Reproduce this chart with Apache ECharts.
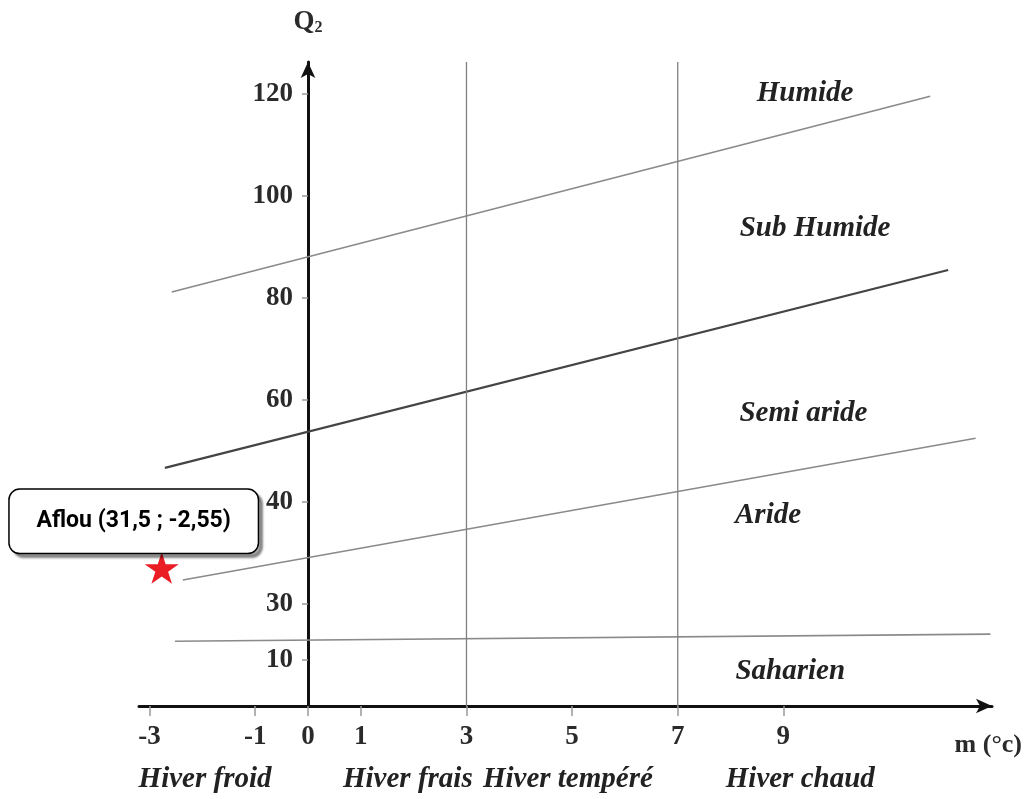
<!DOCTYPE html>
<html>
<head>
<meta charset="utf-8">
<script src="https://cdn.jsdelivr.net/npm/echarts@6/dist/echarts.min.js"></script>
<style>
  html, body { margin: 0; padding: 0; background: #fff; }
  #chart { width: 1026px; height: 799px; }
</style>
</head>
<body>
<div id="chart"></div>
<script>
// x: m (°C), y: position on the Q2 scale (the printed scale is not linear)
const xTickValues = [-3, -1, 0, 1, 3, 5, 7, 9];
const yTickPos = [120, 100, 80, 60, 40, 20, 9];
const yTickLabels = ['120', '100', '80', '60', '40', '30', '10'];

const seasonPos = [-1.95, 1.89, 4.92, 9.32];
const seasonNames = ['Hiver froid', 'Hiver frais', 'Hiver tempéré', 'Hiver chaud'];

const winterLimits = [3, 7];

const limitHumide = [[-2.58, 81.2], [11.78, 119.6]];
const limitSubHumide = [[-2.71, 46.7], [12.12, 85.5]];
const limitSemiAride = [[-2.37, 24.7], [12.64, 52.5]];
const limitAride = [[-2.52, 12.7], [12.92, 14.1]];

const zoneNames = ['Humide', 'Sub Humide', 'Semi aride', 'Aride', 'Saharien'];
const zoneX = [9.41, 9.60, 9.38, 8.71, 9.13];
const zoneY = [120.2, 93.7, 57.3, 37.3, 6.7];

const station = [-2.77, 27.1];
const stationLabel = 'Aflou (31,5 ; -2,55)';

const X_MIN = -3.2, X_MAX = 12.95, Y_MAX = 126.3;
const GRID_LEFT = 139, GRID_RIGHT = 34;
const serif = 'Liberation Serif';

const chart = echarts.init(document.getElementById('chart'));

// pixel distance from grid left to x = 0, so the Q2 axis sits on m = 0
const plotW = 1026 - GRID_LEFT - GRID_RIGHT;
const zeroOffset = Math.round(-X_MIN / (X_MAX - X_MIN) * plotW);

const thinLine = (data, color, width) => ({
  type: 'line',
  data: data,
  showSymbol: false,
  silent: true,
  lineStyle: { color: color, width: width },
  z: 1
});

const series = [
  thinLine(limitHumide, '#8a8a8a', 1.6),
  thinLine(limitSubHumide, '#444', 2.2),
  thinLine(limitSemiAride, '#8a8a8a', 1.6),
  thinLine(limitAride, '#8a8a8a', 1.6)
];

winterLimits.forEach(x => {
  series.push(thinLine([[x, -2.4], [x, Y_MAX]], '#808080', 1.3));
});

series.push({
  type: 'scatter',
  silent: true,
  symbolSize: 0,
  itemStyle: { opacity: 1 },
  data: zoneNames.map((n, i) => [zoneX[i], zoneY[i], n]),
  label: {
    show: true,
    position: 'inside',
    formatter: p => p.data[2],
    fontFamily: serif,
    fontStyle: 'italic',
    fontWeight: 'bold',
    fontSize: 29,
    color: '#222'
  }
});

series.push({
  type: 'scatter',
  silent: true,
  symbol: 'path://M50,0 L61,35 L98,35 L68,57 L79,91 L50,70 L21,91 L32,57 L2,35 L39,35 Z',
  symbolSize: [34, 32],
  itemStyle: { color: '#ea1c24', opacity: 1 },
  data: [station],
  z: 5,
  label: {
    show: true,
    position: 'top',
    distance: -1,
    offset: [-28, 0],
    formatter: stationLabel,
    width: 204,
    align: 'center',
    fontFamily: 'Roboto',
    fontWeight: 'bold',
    fontSize: 23,
    lineHeight: 25,
    color: '#000',
    backgroundColor: '#fff',
    borderColor: '#000',
    borderWidth: 1.5,
    borderRadius: 10,
    padding: [19, 22],
    shadowColor: 'rgba(0,0,0,0.35)',
    shadowOffsetX: 4,
    shadowOffsetY: 4,
    shadowBlur: 2
  }
});

chart.setOption({
  animation: false,
  backgroundColor: '#fff',
  grid: { left: GRID_LEFT, right: GRID_RIGHT, top: 62, bottom: 93, containLabel: false },
  xAxis: [{
    type: 'value',
    min: X_MIN,
    max: X_MAX,
    name: 'm (°c)',
    nameLocation: 'end',
    nameGap: 30,
    nameTextStyle: {
      fontFamily: serif, fontWeight: 'bold', fontSize: 26, color: '#2a2a2a',
      align: 'right', verticalAlign: 'top', padding: [26, 0, 0, 0]
    },
    axisLine: { show: true, lineStyle: { color: '#111', width: 3 }, symbol: ['none', 'arrow'], symbolSize: [11, 16] },
    axisTick: { show: true, length: 10, lineStyle: { color: '#999', width: 1.5 }, customValues: xTickValues },
    axisLabel: {
      customValues: xTickValues,
      margin: 18,
      fontFamily: serif, fontWeight: 'bold', fontSize: 27, color: '#2a2a2a'
    },
    splitLine: { show: false }
  }, {
    type: 'value',
    min: X_MIN,
    max: X_MAX,
    position: 'bottom',
    axisLine: { show: false, onZero: false },
    axisTick: { show: false },
    axisLabel: {
      customValues: seasonPos,
      formatter: v => seasonNames[seasonPos.indexOf(v)],
      margin: 59,
      fontFamily: serif, fontStyle: 'italic', fontWeight: 'bold', fontSize: 29, color: '#222'
    },
    splitLine: { show: false }
  }],
  yAxis: {
    type: 'value',
    min: 0,
    max: Y_MAX,
    offset: -zeroOffset,
    name: '{q|Q}{s|2}',
    nameGap: 26,
    nameTextStyle: {
      rich: {
        q: { fontFamily: serif, fontWeight: 'bold', fontSize: 27, color: '#2a2a2a' },
        s: { fontFamily: serif, fontWeight: 'bold', fontSize: 16, color: '#2a2a2a', verticalAlign: 'bottom', padding: [8, 0, 0, 0] }
      }
    },
    axisLine: { show: true, onZero: false, lineStyle: { color: '#111', width: 3 }, symbol: ['none', 'arrow'], symbolSize: [11, 16] },
    axisTick: { show: true, length: 6, lineStyle: { color: '#999', width: 1.5 }, customValues: yTickPos },
    axisLabel: {
      customValues: yTickPos,
      formatter: v => yTickLabels[yTickPos.indexOf(v)],
      margin: 15,
      fontFamily: serif, fontWeight: 'bold', fontSize: 27, color: '#2a2a2a'
    },
    splitLine: { show: false }
  },
  series: series
});
</script>
</body>
</html>
